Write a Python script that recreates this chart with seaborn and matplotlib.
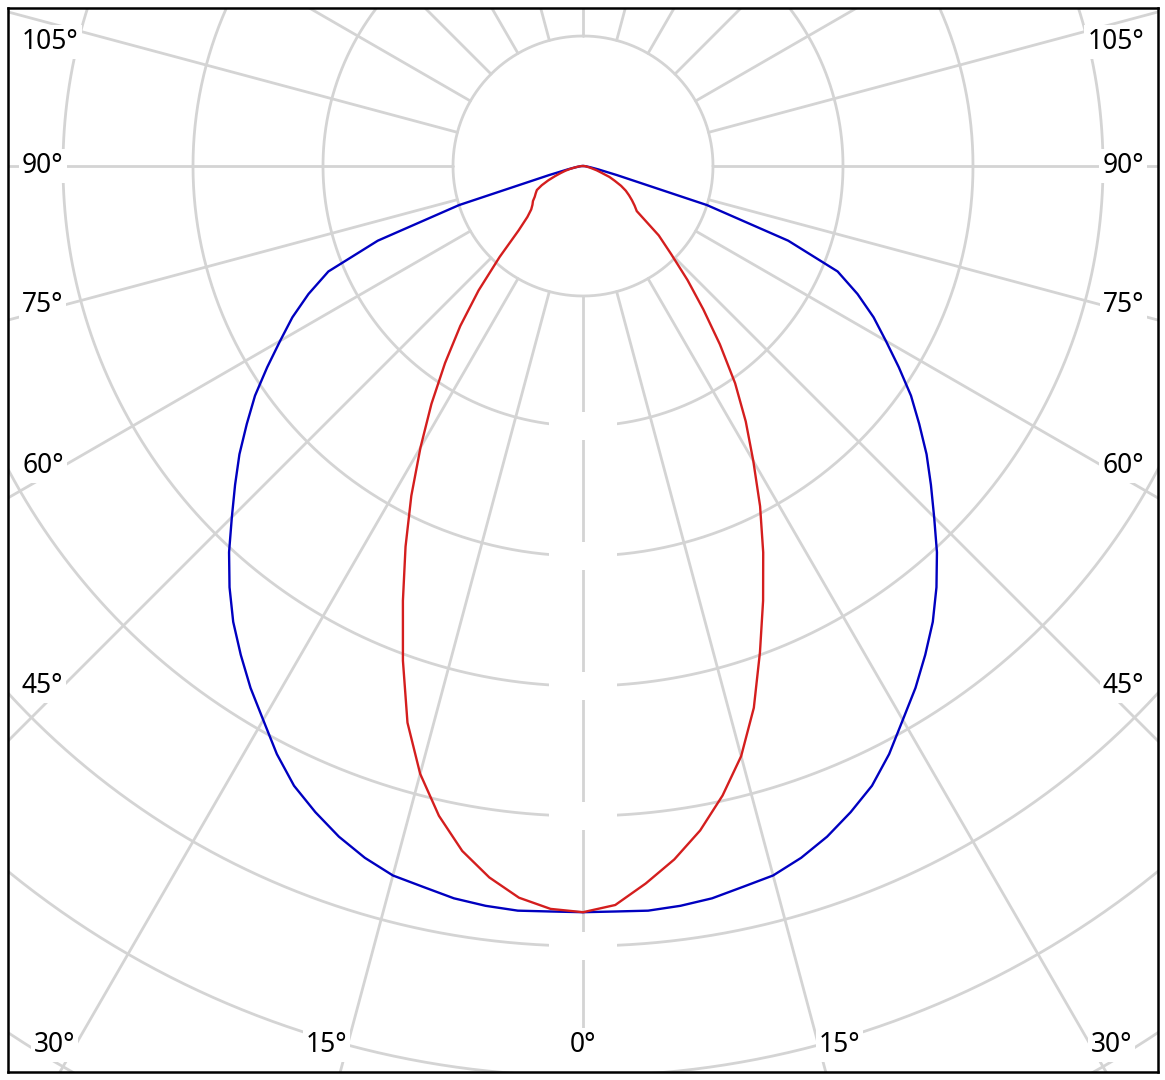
import numpy as np
import pandas as pd
import matplotlib
matplotlib.use("Agg")
import matplotlib.pyplot as plt
import seaborn as sns
from matplotlib.patches import Rectangle

# gamma angles (0 = straight down) and intensities, ring step = 100
angles = list(np.arange(0, 90.1, 2.5))
blue_plane = [574, 574, 575, 574, 572, 568, 565, 558, 549, 538, 526, 510, 492,
              476, 459, 442, 423, 403, 382, 363, 345, 326, 308, 288, 269, 252,
              233, 212, 168, 100, 27, 12, 6, 3, 2, 1, 0]
red_right = [574, 569, 554, 538, 519, 496, 470, 437, 398, 362, 328, 295, 262,
             233, 204, 173, 144, 119, 96, 79, 54, 50, 46, 42, 38, 33, 27, 22,
             15, 11, 7, 5, 3, 2, 1, 1, 0]
red_left = [574, 572, 565, 552, 535, 512, 484, 449, 405, 362, 323, 286, 250,
            217, 185, 155, 125, 95, 70, 58, 52, 49, 47, 44, 42, 40, 35, 29, 23,
            18, 14, 10, 6, 4, 2, 1, 0]

ring_values = [100, 200, 300, 400, 500, 600, 700, 800, 900]
spoke_angles = list(range(0, 360, 15))
label_angles = [0, 15, 30, 45, 60, 75, 90, 105]

px = 1.3  # pixels per unit
xlim = (-575 / px, 575 / px)
ylim = (-906 / px, 158 / px)


def curve(left, right):
    th = [-a for a in angles[::-1]] + angles[1:]
    r = left[::-1] + right[1:]
    th = np.radians(th)
    r = np.array(r, dtype=float)
    return pd.DataFrame({"x": r * np.sin(th), "y": -r * np.cos(th)})


sns.set_style("white")
plt.rcParams["font.family"] = ["Noto Sans", "DejaVu Sans"]

fig = plt.figure(figsize=(11.65, 10.8), dpi=100)
ax = fig.add_axes([8 / 1165, 8 / 1080, 1150 / 1165, 1064 / 1080])

grid_col = "#d4d4d4"
t = np.linspace(0, 2 * np.pi, 721)
for rv in ring_values:
    ax.plot(rv * np.cos(t), rv * np.sin(t), color=grid_col, lw=2.0, zorder=1)
for a in spoke_angles:
    th = np.radians(a)
    ax.plot([ring_values[0] * np.sin(th), 1200 * np.sin(th)],
            [-ring_values[0] * np.cos(th), -1200 * np.cos(th)],
            color=grid_col, lw=2.0, zorder=1)

# blank value boxes where the rings cross the 0 deg line
for rv in ring_values[1:8]:
    ax.add_patch(Rectangle((-26.5, -rv - 11), 53, 22, facecolor="white",
                           edgecolor="none", zorder=2))

sns.lineplot(data=curve(blue_plane, blue_plane), x="x", y="y", sort=False,
             estimator=None, color="#0000c0", lw=1.7, ax=ax, zorder=3)
sns.lineplot(data=curve(red_left, red_right), x="x", y="y", sort=False,
             estimator=None, color="#d41e1e", lw=1.7, ax=ax, zorder=4)

# angle labels along the frame
box = dict(facecolor="white", edgecolor="none", pad=2)
for a in label_angles:
    th = np.radians(a)
    bottom = a < 90 and 879 * np.tan(th) <= 520
    for side in ([1] if a == 0 else [-1, 1]):
        if bottom:
            x = side * 879 * np.tan(th) / px
            y = -879 / px
            ha = "center" if a == 0 else ("right" if side < 0 else "left")
        else:
            dy = 520 / np.tan(th) if a != 90 else 0
            dy = max(dy, -124)
            y = -dy / px
            x = side * 561 / px
            ha = "left" if side < 0 else "right"
        ax.text(x, y, f"{a}°", ha=ha, va="center", fontsize=19,
                color="black", bbox=box, zorder=5)

ax.set_xlim(*xlim)
ax.set_ylim(*ylim)
ax.set_xticks([])
ax.set_yticks([])
ax.set_xlabel("")
ax.set_ylabel("")
for s in ax.spines.values():
    s.set_visible(True)
    s.set_color("black")
    s.set_linewidth(1.8)

fig.savefig("out.png", dpi=100, facecolor="white")
